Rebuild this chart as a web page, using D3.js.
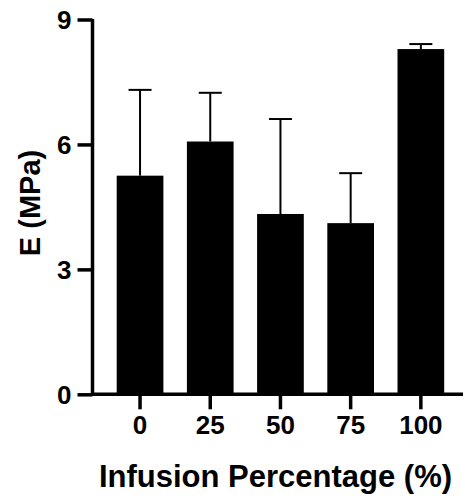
<!DOCTYPE html>
<html lang="en">
<head>
<meta charset="utf-8">
<style>
body { margin: 0; background: #fff; }
text { font-family: "Liberation Sans", Arial, sans-serif; font-weight: bold; fill: #000; }
</style>
</head>
<body>
<svg width="465" height="500"></svg>
<script src="https://cdn.jsdelivr.net/npm/d3@7"></script>
<script>
  var categories = ["0", "25", "50", "75", "100"],
      means = [5.25, 6.07, 4.33, 4.11, 8.29],
      errors = [2.06, 1.17, 2.28, 1.20, 0.12],
      yTicks = [0, 3, 6, 9];

  var svg = d3.select("svg");

  var y = d3.scaleLinear().domain([0, 9]).range([394.3, 19.5]),
      x = d3.scaleBand().domain(categories)
        .range([116.7, 444.2]).paddingInner(0.335).paddingOuter(0);

  // bars
  svg.selectAll("rect.bar")
    .data(categories)
    .enter().append("rect")
      .attr("class", "bar")
      .attr("x", function(d) { return x(d); })
      .attr("width", x.bandwidth())
      .attr("y", function(d, i) { return y(means[i]); })
      .attr("height", function(d, i) { return y(0) - y(means[i]); })
      .attr("fill", "#000");

  // error bars (upper only)
  var capW = 23;
  var eb = svg.selectAll("g.err")
    .data(categories)
    .enter().append("g")
      .attr("class", "err")
      .attr("stroke", "#000")
      .attr("stroke-width", 2);
  eb.append("line")
      .attr("x1", function(d) { return x(d) + x.bandwidth() / 2; })
      .attr("x2", function(d) { return x(d) + x.bandwidth() / 2; })
      .attr("y1", function(d, i) { return y(means[i]); })
      .attr("y2", function(d, i) { return y(means[i] + errors[i]); });
  eb.append("line")
      .attr("x1", function(d) { return x(d) + x.bandwidth() / 2 - capW / 2; })
      .attr("x2", function(d) { return x(d) + x.bandwidth() / 2 + capW / 2; })
      .attr("y1", function(d, i) { return y(means[i] + errors[i]); })
      .attr("y2", function(d, i) { return y(means[i] + errors[i]); });

  // y axis
  var yAxis = d3.axisLeft(y).tickValues(yTicks).tickSize(15).tickPadding(6).tickSizeOuter(0);
  var gy = svg.append("g")
      .attr("transform", "translate(92.5,0)")
      .call(yAxis);
  gy.select(".domain").attr("stroke-width", 3.5).attr("d", "M0," + (y(9) - 0.5) + "V" + (y(0) + 1.5));
  gy.selectAll(".tick line").attr("stroke-width", 3.5);
  gy.selectAll(".tick text")
      .style("font-size", "26px")
      .attr("dy", "0.36em");

  // x axis
  var xAxis = d3.axisBottom(x).tickSize(15).tickPadding(6).tickSizeOuter(0);
  var gx = svg.append("g")
      .attr("transform", "translate(0,394.3)")
      .call(xAxis);
  gx.select(".domain").attr("stroke-width", 3.5).attr("d", "M91,0H463");
  gx.selectAll(".tick line").attr("stroke-width", 3.5);
  gx.selectAll(".tick text")
      .style("font-size", "26px");

  // axis titles
  svg.append("text")
      .attr("transform", "translate(39.5,203) rotate(-90)")
      .attr("text-anchor", "middle")
      .style("font-size", "29px")
      .text("E (MPa)");

  svg.append("text")
      .attr("x", 275.5)
      .attr("y", 486.5)
      .attr("text-anchor", "middle")
      .style("font-size", "31px")
      .text("Infusion Percentage (%)");
</script>
</body>
</html>
